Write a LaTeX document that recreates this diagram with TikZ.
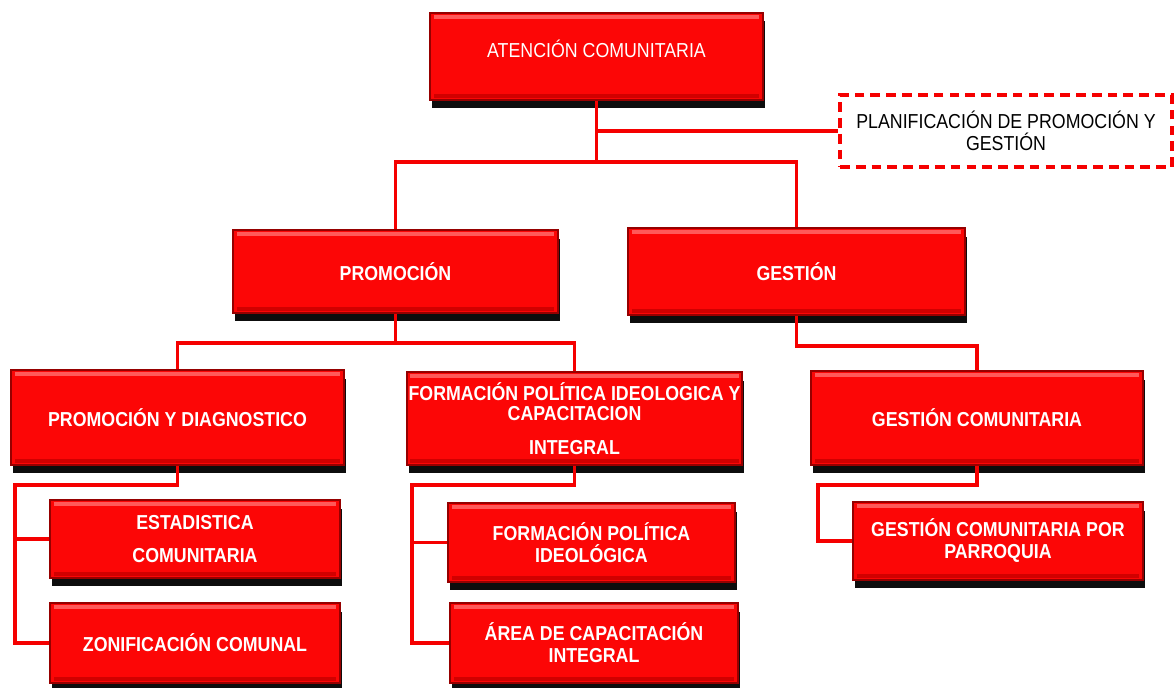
\documentclass[tikz,border=0pt]{standalone}
\usepackage{fontspec}
\usepackage{xcolor}
\usepackage{tikz}
\usetikzlibrary{shadows}
\newfontfamily\boxfont{Liberation Sans}[FakeStretch=0.88]
\definecolor{boxred}{RGB}{252,6,6}
\definecolor{boxedge}{RGB}{150,0,0}
\definecolor{linkred}{RGB}{245,0,0}

\begin{document}
\begin{tikzpicture}[x=0.02cm,y=-0.02cm,
  redbox/.style={draw=boxedge,line width=0.9pt,fill=boxred,inner sep=1pt,
    text=white,align=center,font=\boxfont\bfseries\fontsize{11.5}{12.5}\selectfont,
    drop shadow={shadow xshift=0.04cm,shadow yshift=-0.17cm,opacity=1,fill=black!95},
    path picture={
      \fill[red!65!white] ([xshift=2pt,yshift=-1.2pt]path picture bounding box.north west) rectangle ([xshift=-2pt,yshift=-3.4pt]path picture bounding box.north east);
      \fill[red!82!black] ([xshift=2pt,yshift=1.2pt]path picture bounding box.south west) rectangle ([xshift=-2pt,yshift=3.4pt]path picture bounding box.south east);
    }},
  planbox/.style={draw=linkred,line width=2pt,dash pattern=on 5.5pt off 3.5pt,
    fill=white,align=center,font=\boxfont\fontsize{11.5}{12.5}\selectfont},
  link/.style={draw=linkred,line width=2.1pt}]
\useasboundingbox (0,0) rectangle (1176,688);

\node[redbox,minimum width=6.66cm,minimum height=1.74cm,font=\boxfont\fontsize{11.5}{12.5}\selectfont] (aten) at (596.5,56.5) {ATENCIÓN COMUNITARIA\\[-4pt]};
\node[planbox,minimum width=6.64cm,minimum height=1.44cm] (plan) at (1006,131) {PLANIFICACIÓN DE PROMOCIÓN Y\\GESTIÓN};

\node[redbox,minimum width=6.5cm,minimum height=1.66cm] (prom) at (395.5,271.5) {PROMOCIÓN};
\node[redbox,minimum width=6.74cm,minimum height=1.74cm] (gest) at (796.5,271.5) {GESTIÓN};

\node[redbox,minimum width=6.66cm,minimum height=1.9cm] (pdiag) at (177.5,417.5) {PROMOCIÓN Y DIAGNOSTICO};
\node[redbox,minimum width=6.7cm,minimum height=1.86cm] (fpic) at (574.5,418.5) {FORMACIÓN POLÍTICA IDEOLOGICA Y\\[-1pt]CAPACITACION\\[7pt]INTEGRAL};
\node[redbox,minimum width=6.64cm,minimum height=1.88cm] (gcom) at (977,418) {GESTIÓN COMUNITARIA};

\node[redbox,minimum width=5.8cm,minimum height=1.56cm] (esta) at (195,539) {ESTADISTICA\\[6pt]COMUNITARIA};
\node[redbox,minimum width=5.8cm,minimum height=1.6cm] (zoni) at (195,643) {ZONIFICACIÓN COMUNAL};
\node[redbox,minimum width=5.74cm,minimum height=1.58cm] (fpi) at (591.5,542.5) {FORMACIÓN POLÍTICA\\IDEOLÓGICA};
\node[redbox,minimum width=5.76cm,minimum height=1.6cm] (area) at (594,643) {ÁREA DE CAPACITACIÓN\\INTEGRAL};
\node[redbox,minimum width=5.8cm,minimum height=1.56cm] (gcpp) at (998,541) {GESTIÓN COMUNITARIA POR\\PARROQUIA};

\coordinate (j1) at (596.5,162);
\coordinate (j2) at (395.5,343);
\coordinate (l1) at (15,485);
\coordinate (l2) at (412,485);
\coordinate (l3) at (818,485);
\draw[link] (aten.south) |- (plan.west);
\draw[link] (aten.south) -- (j1);
\draw[link] (prom.north) |- (j1) -| (gest.north);
\draw[link] (prom.south) -- (j2);
\draw[link] (pdiag.north) |- (j2) -| (fpic.north);
\draw[link] (gest.south) -- ++(0,30) -| (gcom.north);
\draw[link] (pdiag.south) |- (l1) |- (zoni.west);
\draw[link] (l1 |- esta.west) -- (esta.west);
\draw[link] (fpic.south) |- (l2) |- (area.west);
\draw[link] (l2 |- fpi.west) -- (fpi.west);
\draw[link] (gcom.south) |- (l3) |- (gcpp.west);
\end{tikzpicture}
\end{document}
